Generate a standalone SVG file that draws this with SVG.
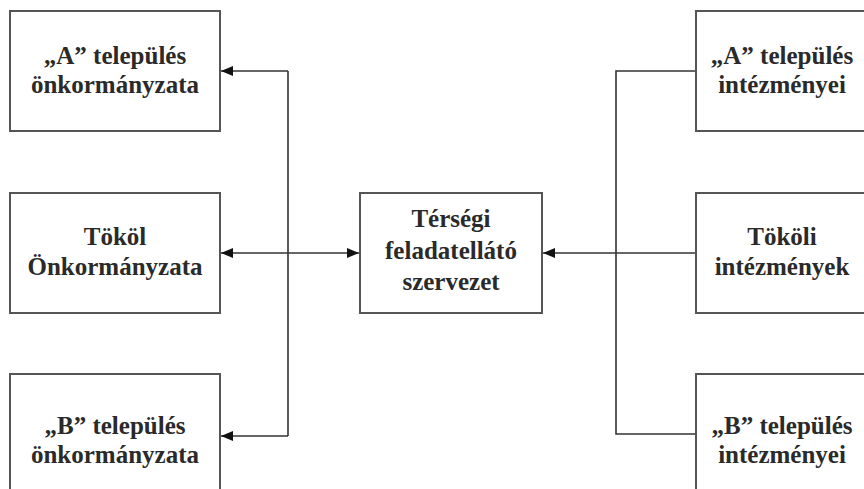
<svg xmlns="http://www.w3.org/2000/svg" width="864" height="489" viewBox="0 0 864 489">
<defs>
<marker id="arr" viewBox="0 0 12 10" refX="12" refY="5" markerWidth="12" markerHeight="10" markerUnits="userSpaceOnUse" orient="auto-start-reverse">
<path d="M0,0 L12,5 L0,10 z" fill="#111"/>
</marker>
<style>
.box{fill:#fff;stroke:#555;stroke-width:2}
.t{font-family:"Liberation Serif","DejaVu Serif",serif;font-weight:bold;font-size:25px;fill:#2a2a2a;text-anchor:middle}
.ln{fill:none;stroke:#333;stroke-width:1.6}
</style>
</defs>
<rect width="864" height="489" fill="#fff"/>
<g id="connectors">
<polyline class="ln" points="288,71 288,436"/>
<line class="ln" x1="288" y1="71" x2="221" y2="71" marker-end="url(#arr)"/>
<line class="ln" x1="288" y1="436" x2="221" y2="436" marker-end="url(#arr)"/>
<line class="ln" x1="221" y1="253" x2="359" y2="253" marker-start="url(#arr)" marker-end="url(#arr)"/>
<polyline class="ln" points="696,71 616,71 616,434 696,434"/>
<line class="ln" x1="696" y1="253" x2="543" y2="253" marker-end="url(#arr)"/>
</g>
<g id="a-onkormanyzat">
<rect class="box" x="10" y="11" width="210" height="120"/>
<text class="t" x="115" y="64">„A” település</text>
<text class="t" x="115" y="93">önkormányzata</text>
</g>
<g id="tokol-onkormanyzat">
<rect class="box" x="10" y="193" width="210" height="120"/>
<text class="t" x="115" y="245">Tököl</text>
<text class="t" x="115" y="275">Önkormányzata</text>
</g>
<g id="b-onkormanyzat">
<rect class="box" x="10" y="374" width="210" height="130"/>
<text class="t" x="115" y="434">„B” település</text>
<text class="t" x="115" y="463">önkormányzata</text>
</g>
<g id="tersegi">
<rect class="box" x="360" y="193" width="182" height="120"/>
<text class="t" x="451" y="227">Térségi</text>
<text class="t" x="451" y="259">feladatellátó</text>
<text class="t" x="451" y="290">szervezet</text>
</g>
<g id="a-intezmenyei">
<rect class="box" x="696" y="11" width="175" height="120"/>
<text class="t" x="782" y="64">„A” település</text>
<text class="t" x="782" y="93">intézményei</text>
</g>
<g id="tokoli-intezmenyek">
<rect class="box" x="696" y="193" width="175" height="120"/>
<text class="t" x="782" y="245">Tököli</text>
<text class="t" x="782" y="275">intézmények</text>
</g>
<g id="b-intezmenyei">
<rect class="box" x="696" y="374" width="175" height="130"/>
<text class="t" x="782" y="434">„B” település</text>
<text class="t" x="782" y="463">intézményei</text>
</g>
</svg>
